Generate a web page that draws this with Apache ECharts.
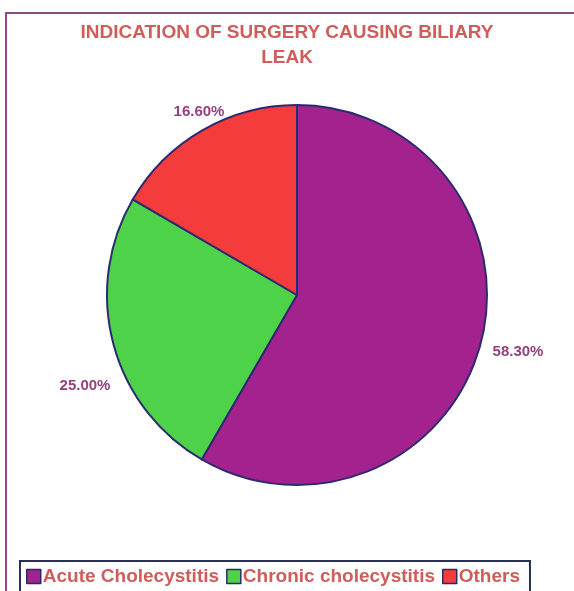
<!DOCTYPE html>
<html><head><meta charset="utf-8">
<script src="https://cdn.jsdelivr.net/npm/echarts@6/dist/echarts.min.js"></script>
<style>html,body{margin:0;padding:0;background:#fff}#c{width:574px;height:591px}</style>
</head><body><div id="c"></div>
<script>
const categories = ["Acute Cholecystitis", "Chronic cholecystitis", "Others"];
const values = [58.3, 25.0, 16.6];
const labels = ["58.30%", "25.00%", "16.60%"];
const colors = ["#a4228e", "#4ed24a", "#f43c3c"];

const labelPos = [[518, 352], [85, 386], [199, 112]];

const chart = echarts.init(document.getElementById('c'), null, {renderer: 'canvas'});
chart.setOption({
  backgroundColor: '#ffffff',
  animation: false,
  title: {
    text: 'INDICATION OF SURGERY CAUSING BILIARY\nLEAK',
    left: 'center', top: 15,
    textStyle: {fontFamily: 'Liberation Sans, Arial', fontSize: 19, fontWeight: 'bold', color: '#cf5d5a', lineHeight: 25}
  },
  graphic: [{
    type: 'rect', shape: {x: 6, y: 13, width: 600, height: 600},
    style: {fill: 'none', stroke: '#8e4c84', lineWidth: 2}
  }],
  legend: {
    data: categories, left: 20, top: 561,
    itemWidth: 14, itemHeight: 14, itemGap: 7,
    icon: 'rect',
    borderColor: '#283058', borderWidth: 2, padding: [6, 10, 10, 6],
    textStyle: {fontFamily: 'Liberation Sans, Arial', fontSize: 19, fontWeight: 'bold', color: '#cf5d5a', padding: [0, 0, 0, -3]},
    itemStyle: {borderColor: '#2a2a6a', borderWidth: 1.5}
  },
  series: [{
    type: 'pie', center: [297, 295], radius: 190,
    startAngle: 90, clockwise: true,
    data: categories.map((n, i) => ({name: n, value: values[i], itemStyle: {color: colors[i]}, label: {formatter: labels[i]}})),
    itemStyle: {borderColor: '#2c2a70', borderWidth: 2},
    label: {show: true, position: 'outside', overflow: 'none', fontFamily: 'Liberation Sans, Arial', fontSize: 15, fontWeight: 'bold', color: '#93407e'},
    labelLine: {show: false},
    labelLayout: function (p) {
      const pos = labelPos[p.dataIndex];
      return {x: pos[0], y: pos[1], align: 'center', verticalAlign: 'middle'};
    }
  }]
});
</script></body></html>
